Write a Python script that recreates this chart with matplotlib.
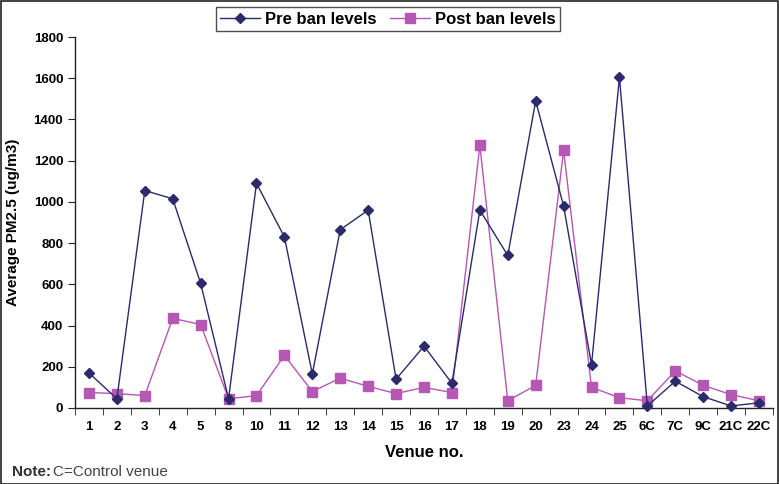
import matplotlib
matplotlib.use("Agg")
import matplotlib.pyplot as plt
from matplotlib.patches import Rectangle

# venue labels and average PM2.5 (ug/m3) values
venues = ["1", "2", "3", "4", "5", "8", "10", "11", "12", "13", "14", "15", "16",
          "17", "18", "19", "20", "23", "24", "25", "6C", "7C", "9C", "21C", "22C"]
pre_ban = [170, 45, 1055, 1015, 605, 45, 1090, 830, 165, 865, 960, 140, 300,
           120, 960, 740, 1490, 980, 210, 1605, 10, 130, 55, 10, 25]
post_ban = [75, 70, 60, 435, 405, 45, 60, 255, 80, 145, 105, 70, 100,
            75, 1275, 35, 110, 1250, 100, 50, 35, 180, 110, 65, 35]
y_ticks = [0, 200, 400, 600, 800, 1000, 1200, 1400, 1600, 1800]

plt.rcParams['font.family'] = ['Liberation Sans', 'DejaVu Sans']

W, H = 779, 484
fig = plt.figure(figsize=(W / 100, H / 100), dpi=100)
ax = fig.add_axes([75 / W, 76 / H, 698 / W, 371 / H])

x = list(range(len(venues)))
ax.plot(x, pre_ban, color='#2b2a6b', lw=1, marker='D', ms=5,
        label='Pre ban levels', clip_on=False, zorder=3)
ax.plot(x, post_ban, color='#b458b4', lw=1, marker='s', ms=6.5,
        label='Post ban levels', clip_on=False, zorder=2)

ax.set_xlim(-0.5, len(venues) - 0.5)
ax.set_ylim(0, 1800)
ax.set_yticks(y_ticks)
ax.set_yticklabels([str(v) for v in y_ticks], fontsize=9.5, fontweight='bold')
ax.set_xticks(x)
ax.set_xticklabels(venues, fontsize=9.5, fontweight='bold')
ax.tick_params(axis='x', length=0, pad=9)
ax.set_xticks([i - 0.5 for i in range(len(venues) + 1)], minor=True)
ax.tick_params(axis='x', which='minor', length=5, direction='out', color='#222222')
ax.tick_params(axis='y', length=5, direction='out', color='#222222')

for s in ['top', 'right']:
    ax.spines[s].set_visible(False)
for s in ['left', 'bottom']:
    ax.spines[s].set_color('#222222')
    ax.spines[s].set_linewidth(1)

ax.set_ylabel('Average PM2.5 (ug/m3)', fontsize=11, fontweight='bold', labelpad=10)
ax.set_xlabel('Venue no.', fontsize=12, fontweight='bold', labelpad=9)

leg = fig.legend(loc='center', bbox_to_anchor=(388 / W, 1 - 19 / H), ncol=2,
                 frameon=True, fancybox=False, edgecolor='#222222',
                 prop={'size': 12, 'weight': 'bold'}, handlelength=2.4,
                 handletextpad=0.3, columnspacing=0.8, borderpad=0.25)
leg.get_frame().set_linewidth(1)

fig.text(12 / W, 1 - 472 / H, 'Note:', fontsize=11, fontweight='bold',
         color='#333333', va='center')
fig.text(53 / W, 1 - 472 / H, 'C=Control venue', fontsize=11,
         color='#444444', va='center')

fig.patches.append(Rectangle((0.5 / W, 0.5 / H), 1 - 1.5 / W, 1 - 1.5 / H,
                             transform=fig.transFigure, fill=False,
                             edgecolor='#222222', lw=1.2))

fig.savefig('out.png', dpi=100)
